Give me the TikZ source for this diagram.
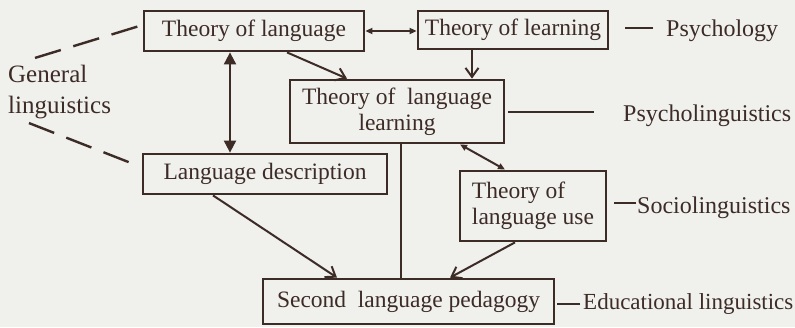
\documentclass[tikz,border=0pt]{standalone}
\usepackage{fontspec}
\setmainfont{Liberation Serif}
\usetikzlibrary{arrows.meta}
\definecolor{papel}{rgb}{0.94,0.94,0.93}
\definecolor{tinta}{rgb}{0.24,0.17,0.15}

\begin{document}
\begin{tikzpicture}[x=1pt,y=-1pt,
	caja/.style={draw=tinta,line width=2.8pt,inner sep=0pt,text=tinta,font=\fontsize{23.5}{26}\selectfont,align=center},
	etiqueta/.style={inner sep=0pt,text=tinta,font=\fontsize{24}{26}\selectfont,anchor=base west},
	linea/.style={draw=tinta,line width=2pt},
	flecha/.style={linea,-{Straight Barb[length=9pt,width=13pt]}},
	dobleflecha/.style={linea,{Triangle[length=7pt,width=6pt]}-{Triangle[length=7pt,width=6pt]}},
	discontinua/.style={linea,line width=2.4pt,dash pattern=on 27pt off 13pt}]

			% Fondo del papel
			\fill[papel] (0,0) rectangle (795,327);

			% Cajas
			\node[caja,minimum width=220pt,minimum height=40pt] (lang) at (254,31) {Theory of language};
			\node[caja,minimum width=190pt,minimum height=38pt] (learn) at (513,30) {Theory of learning};
			\node[caja,minimum width=214pt,minimum height=63pt] (langlearn) at (397,111.5) {Theory of\ \ language\\learning};
			\node[caja,minimum width=244pt,minimum height=40pt] (desc) at (265,174) {Language description};
			\node[caja,minimum width=146pt,minimum height=70pt,align=left] (use) at (533,206) {Theory of\\language use};
			\node[caja,minimum width=291pt,minimum height=45pt] (ped) at (408.5,301.5) {Second\ \ language pedagogy};

			% Disciplinas
			\node[etiqueta] (psych) at (666,36) {Psychology};
			\node[etiqueta] (plin) at (623,121) {Psycholinguistics};
			\node[etiqueta] (soc) at (637,213) {Sociolinguistics};
			\node[etiqueta,font=\fontsize{23}{26}\selectfont] (edu) at (583,309) {Educational linguistics};
			\node[etiqueta,font=\fontsize{25}{31}\selectfont,align=left,anchor=west] (gen) at (8,92) {General\\linguistics};

			% Flechas entre cajas
			\draw[dobleflecha] (lang.east) -- (lang.east -| learn.west);
			\draw[flecha] ([xshift=-41pt]learn.south) -- ([xshift=-41pt]learn.south |- langlearn.north);
			\draw[flecha] ([xshift=33pt]lang.south) -- ([xshift=-50pt]langlearn.north);
			\draw[linea,{Triangle[length=12pt,width=12pt]}-{Triangle[length=12pt,width=12pt]}] ([xshift=-24pt]lang.south) -- ([xshift=-24pt]lang.south |- desc.north);
			\draw[linea] ([xshift=4pt]langlearn.south) -- ([xshift=4pt]langlearn.south |- ped.north);
			\draw[flecha] ([xshift=-52pt]desc.south) -- ([xshift=-71.5pt]ped.north);
			\draw[flecha] ([xshift=-18pt]use.south) -- ([xshift=41.5pt]ped.north);
			\draw[dobleflecha] ([xshift=63pt]langlearn.south) -- ([xshift=-28pt]use.north);

			% Rayas hacia las disciplinas
			\draw[linea] ([xshift=-13pt,yshift=2pt]psych.west) -- ++(-28,0);
			\draw[linea] ([xshift=3pt]langlearn.east) -- ++(86,0);
			\draw[linea] ([xshift=-1pt,yshift=4pt]soc.west) -- ++(-22,0);
			\draw[linea] ([xshift=-3pt]edu.west) -- ++(-23,0);

			% Lineas discontinuas de la linguistica general
			\draw[discontinua] ([xshift=27pt,yshift=7pt]gen.north west) -- ([yshift=6pt]lang.west);
			\draw[discontinua] ([xshift=21pt,yshift=-4pt]gen.south west) -- ([xshift=-3pt,yshift=8pt]desc.west);

		\end{tikzpicture}
\end{document}
